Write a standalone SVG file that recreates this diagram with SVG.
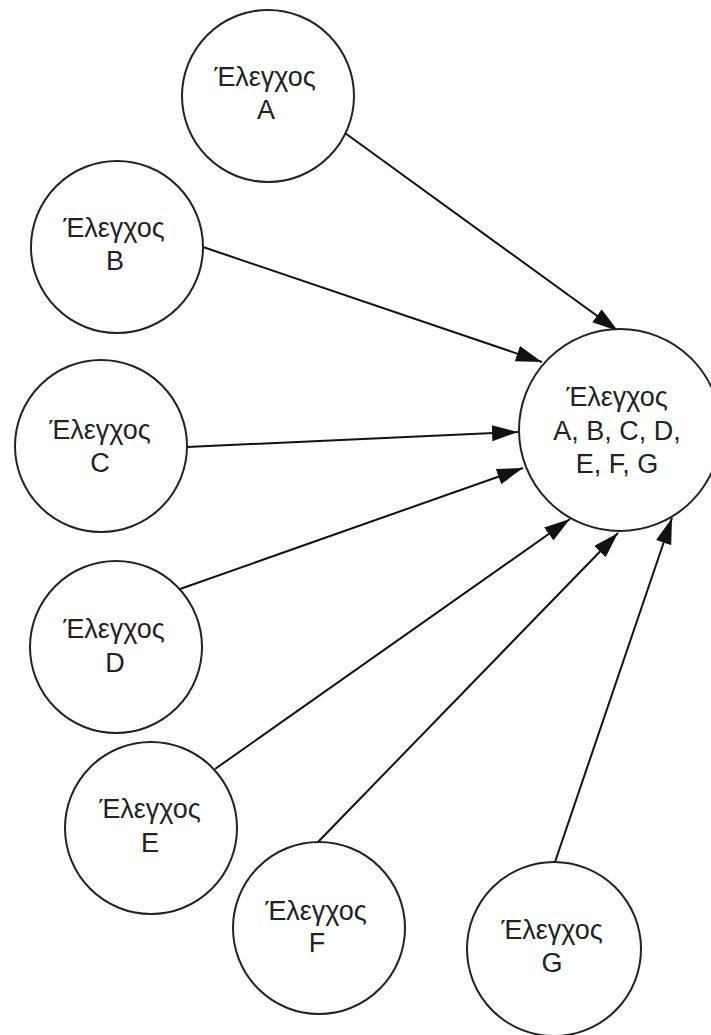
<svg xmlns="http://www.w3.org/2000/svg" width="711" height="1035" viewBox="0 0 711 1035">
  <style>
    .node circle { fill: #ffffff; stroke: #222222; stroke-width: 2; }
    .node text { font-family: "Liberation Sans", Arial, sans-serif; font-size: 27px; fill: #222222; text-anchor: middle; }
    .edge { stroke: #111111; stroke-width: 2; fill: none; marker-end: url(#arrow); }
  </style>
  <defs>
    <marker id="arrow" markerUnits="userSpaceOnUse" markerWidth="28" markerHeight="18" refX="26" refY="8" orient="auto">
      <path d="M0,0 L26,8 L0,16 z" fill="#111111"/>
    </marker>
  </defs>
  <rect width="711" height="1035" fill="#ffffff"/>

  <!-- connectors -->
  <g id="connectors">
    <line class="edge" x1="345" y1="133" x2="618" y2="331"/>
    <line class="edge" x1="203" y1="247" x2="542" y2="362"/>
    <line class="edge" x1="187" y1="447" x2="518" y2="432"/>
    <line class="edge" x1="180" y1="589" x2="523" y2="468"/>
    <line class="edge" x1="215" y1="769" x2="570" y2="519"/>
    <line class="edge" x1="318" y1="842" x2="618" y2="533"/>
    <line class="edge" x1="555" y1="862" x2="672" y2="518"/>
  </g>

  <!-- nodes -->
  <g id="node-a" class="node">
    <circle cx="268" cy="96" r="86"/>
    <text x="265" y="86">Έλεγχος</text>
    <text x="266" y="119">A</text>
  </g>
  <g id="node-b" class="node">
    <circle cx="117" cy="247" r="86"/>
    <text x="114" y="237">Έλεγχος</text>
    <text x="115" y="270">B</text>
  </g>
  <g id="node-c" class="node">
    <circle cx="101" cy="446" r="86"/>
    <text x="100" y="439">Έλεγχος</text>
    <text x="100" y="472">C</text>
  </g>
  <g id="node-d" class="node">
    <circle cx="116" cy="647" r="86"/>
    <text x="114" y="638">Έλεγχος</text>
    <text x="115" y="672">D</text>
  </g>
  <g id="node-e" class="node">
    <circle cx="151" cy="828" r="86"/>
    <text x="150" y="818">Έλεγχος</text>
    <text x="150" y="852">E</text>
  </g>
  <g id="node-f" class="node">
    <circle cx="319" cy="928" r="86"/>
    <text x="316" y="920">Έλεγχος</text>
    <text x="317" y="952">F</text>
  </g>
  <g id="node-g" class="node">
    <circle cx="554" cy="949" r="87"/>
    <text x="552" y="939">Έλεγχος</text>
    <text x="552" y="972">G</text>
  </g>
  <g id="node-all" class="node">
    <circle cx="620" cy="430" r="101"/>
    <text x="617" y="406">Έλεγχος</text>
    <text x="617" y="440">A, B, C, D,</text>
    <text x="617" y="473">E, F, G</text>
  </g>
</svg>
